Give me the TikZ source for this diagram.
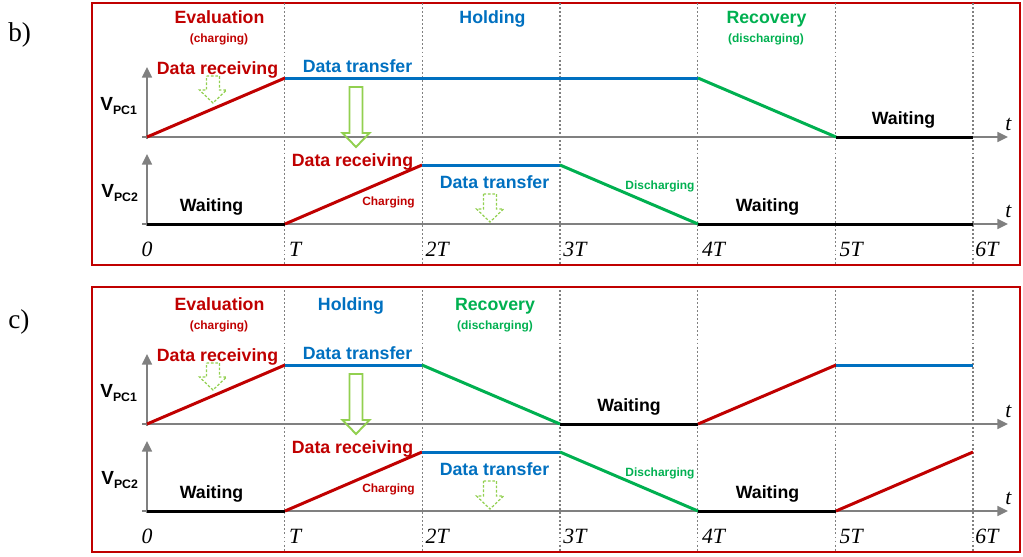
\documentclass[tikz,border=0pt]{standalone}
\usepackage{fontspec}
\setmainfont{Liberation Serif}
\setsansfont{Liberation Sans}
\usetikzlibrary{arrows.meta}
\definecolor{cred}{RGB}{192,0,0}
\definecolor{cblue}{RGB}{0,112,192}
\definecolor{cgreen}{RGB}{0,176,80}
\definecolor{lgreen}{RGB}{146,208,80}
\definecolor{agray}{RGB}{128,128,128}
\tikzset{
 lbl/.style={font=\sffamily\bfseries\fontsize{10.1}{12}\selectfont, inner sep=0pt, anchor=base},
 sml/.style={font=\sffamily\bfseries\fontsize{6.8}{8}\selectfont, inner sep=0pt, anchor=base},
 tlbl/.style={font=\itshape\fontsize{12.4}{14}\selectfont, inner sep=0pt, anchor=base west},
 vlbl/.style={font=\sffamily\bfseries\fontsize{10.8}{12}\selectfont, inner sep=0pt, anchor=base west},
 plbl/.style={font=\fontsize{15.5}{17}\selectfont, inner sep=0pt, anchor=base west},
 sig/.style={line width=1.7pt},
 axis/.style={draw=agray, line width=1.3pt, -{Triangle[length=6pt,width=5.5pt]}},
 gridline/.style={draw=agray, line width=0.85pt, dash pattern=on 1.1pt off 1.2pt},
 frame/.style={draw=cred, line width=1.1pt},
 harrow/.style={draw=lgreen, line width=0.7pt, dash pattern=on 1.5pt off 1pt},
 barrow/.style={draw=lgreen, line width=1.1pt},
}
\newcommand\hollowarrow[5]{%
 \draw[#1] (#2-6.5,#3) -- (#2+6.5,#3) -- (#2+6.5,#4) -- (#2+13.5,#4) -- (#2,#5) -- (#2-13.5,#4) -- (#2-6.5,#4) -- cycle;}
\newcommand\vpc[1]{V\raisebox{-0.45ex}{\fontsize{7}{8}\selectfont PC#1}}
\newcommand\panelbase{%
 \foreach \k in {1,...,6} {\draw[gridline] (147+\k*137.67,3) -- (147+\k*137.67,265);}
 \draw[axis] (142,137) -- (1008,137);
 \draw[axis] (142,224) -- (1008,224);
 \draw[axis] (147,139) -- (147,67);
 \draw[axis] (147,226) -- (147,154);
 \node[tlbl] (t1) at (1005,130) {t};
 \node[tlbl] (t2) at (1005,217) {t};
 \node[tlbl,anchor=base] (z0) at (147,256) {0};
 \node[tlbl] (z1) at (147+1*137.67+4,256) {T};
 \node[tlbl] (z2) at (147+2*137.67+3,256) {2T};
 \node[tlbl] (z3) at (147+3*137.67+3,256) {3T};
 \node[tlbl] (z4) at (147+4*137.67+4,256) {4T};
 \node[tlbl] (z5) at (147+5*137.67+4,256) {5T};
 \node[tlbl] (z6) at (147+6*137.67+2,256) {6T};
 \node[vlbl] (v1) at (100,110) {\vpc{1}};
 \node[vlbl] (v2) at (101,197) {\vpc{2}};
 \node[lbl,cred] (ev) at (219.5,23) {Evaluation};
 \node[sml,cred] (evc) at (219,42) {(charging)};
 \node[lbl,cred] (dr1) at (217.5,74.5) {Data receiving};
 \node[lbl,cblue] (dt1) at (357.5,72) {Data transfer};
 \node[lbl,cred] (dr2) at (352.5,166) {Data receiving};
 \node[sml,cred] (ch) at (388.5,205) {Charging};
 \node[lbl,cblue] (dt2) at (494.5,188) {Data transfer};
 \node[sml,cgreen] (dis) at (660,189) {Discharging};
 \node[lbl] (w1) at (211.5,211) {Waiting};
 \node[lbl] (w2) at (767.5,211) {Waiting};
 \hollowarrow{harrow}{213}{76}{90}{103}
 \hollowarrow{barrow}{356}{87}{133}{147}
 \hollowarrow{harrow}{490}{194}{209}{222}
}
\begin{document}
\begin{tikzpicture}[x=0.02cm,y=-0.02cm]
\useasboundingbox (0,0) rectangle (1023,556);
% panel b
\begin{scope}
 \draw[frame] (92,3) rectangle (1020,265);
 \panelbase
 \node[plbl] (pb) at (8,41) {b)};
 \node[lbl,cblue] (hold) at (492.5,23) {Holding};
 \node[lbl,cgreen] (rec) at (766.5,23) {Recovery};
 \node[sml,cgreen] (recd) at (766,42) {(discharging)};
 \node[lbl] (w3) at (903.5,124.5) {Waiting};
 \draw[sig,cred] (147,137) -- (285,78);
 \draw[sig,cblue] (285,78) -- (698,78);
 \draw[sig,cgreen] (698,78) -- (836,137);
 \draw[sig,black] (836,137) -- (973,137);
 \draw[sig,black] (147,224) -- (285,224);
 \draw[sig,cred] (285,224) -- (422,165);
 \draw[sig,cblue] (422,165) -- (560,165);
 \draw[sig,cgreen] (560,165) -- (698,224);
 \draw[sig,black] (698,224) -- (973,224);
\end{scope}
% panel c
\begin{scope}[shift={(0,287)}]
 \draw[frame] (92,0) rectangle (1020,265);
 \panelbase
 \node[plbl] (pc) at (8,41) {c)};
 \node[lbl,cblue] (hold) at (351,23) {Holding};
 \node[lbl,cgreen] (rec) at (495,23) {Recovery};
 \node[sml,cgreen] (recd) at (495,42) {(discharging)};
 \node[lbl] (w3) at (629,124.5) {Waiting};
 \draw[sig,cred] (147,137) -- (285,78);
 \draw[sig,cblue] (285,78) -- (422,78);
 \draw[sig,cgreen] (422,78) -- (560,137);
 \draw[sig,black] (560,137) -- (698,137);
 \draw[sig,cred] (698,137) -- (836,78);
 \draw[sig,cblue] (836,78) -- (973,78);
 \draw[sig,black] (147,224) -- (285,224);
 \draw[sig,cred] (285,224) -- (422,165);
 \draw[sig,cblue] (422,165) -- (560,165);
 \draw[sig,cgreen] (560,165) -- (698,224);
 \draw[sig,black] (698,224) -- (836,224);
 \draw[sig,cred] (836,224) -- (973,165);
\end{scope}
\end{tikzpicture}
\end{document}
